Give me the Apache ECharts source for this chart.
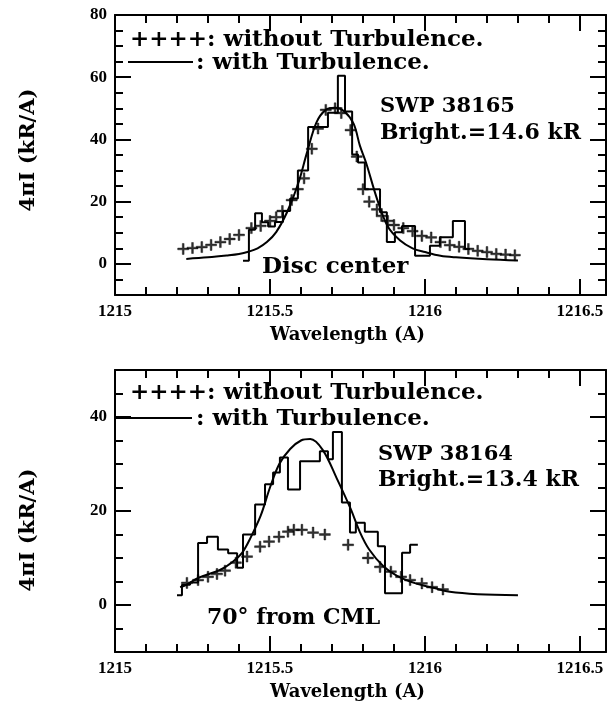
<!DOCTYPE html>
<html><head><meta charset="utf-8">
<script src="https://cdn.jsdelivr.net/npm/echarts@6/dist/echarts.min.js"></script>
<style>html,body{margin:0;padding:0;background:#fff}#c{width:607px;height:715px}</style>
</head><body><div id="c"></div>
<script>
// ---- tick values ----
const xTickLabels = [1215, 1215.5, 1216, 1216.5];
const xMinorTicks = [1215.1, 1215.2, 1215.3, 1215.4, 1215.6, 1215.7, 1215.8, 1215.9, 1216.1, 1216.2, 1216.3, 1216.4];
const topYTicks = [0, 20, 40, 60, 80];
const topYMinor = [-5, 5, 10, 15, 25, 30, 35, 45, 50, 55, 65, 70, 75];
const botYTicks = [0, 20, 40];
const botYMinor = [-5, 5, 10, 15, 25, 30, 35, 45];

// ---- top panel (SWP 38165, disc center) ----
const topCurveX = [1215.23, 1215.30, 1215.36, 1215.40, 1215.43, 1215.46, 1215.49, 1215.52, 1215.555, 1215.59, 1215.62, 1215.65, 1215.68, 1215.71, 1215.74, 1215.77, 1215.79, 1215.81, 1215.845, 1215.88, 1215.92, 1215.96, 1216.00, 1216.05, 1216.10, 1216.20, 1216.30];
const topCurveY = [1.6, 2.1, 2.7, 3.2, 3.9, 5.0, 7.0, 10.2, 16.6, 25.5, 36, 45.5, 49.5, 50.2, 49, 45, 38, 32.5, 21, 12, 7.5, 5, 3.8, 2.6, 2.1, 1.5, 1.1];
const topPlusX = [1215.22, 1215.25, 1215.28, 1215.31, 1215.34, 1215.37, 1215.40, 1215.44, 1215.47, 1215.50, 1215.52, 1215.54, 1215.57, 1215.59, 1215.61, 1215.635, 1215.655, 1215.68, 1215.71, 1215.73, 1215.76, 1215.78, 1215.80, 1215.82, 1215.845, 1215.86, 1215.88, 1215.90, 1215.93, 1215.96, 1215.99, 1216.02, 1216.05, 1216.08, 1216.11, 1216.14, 1216.17, 1216.20, 1216.23, 1216.26, 1216.29];
const topPlusY = [4.8, 5.1, 5.4, 6.1, 7.0, 8.0, 9.3, 11.5, 12.2, 13.8, 15.0, 17.0, 20.5, 24, 27.5, 37, 43.5, 49.5, 50, 48.5, 43, 34.5, 24, 20, 17.5, 15.4, 13.8, 12.5, 11.5, 10.5, 9.0, 8.5, 7.0, 6.0, 5.5, 4.8, 4.2, 3.8, 3.2, 3.0, 2.8];
const topHistEdges = [1215.413, 1215.432, 1215.452, 1215.474, 1215.494, 1215.516, 1215.542, 1215.565, 1215.590, 1215.623, 1215.687, 1215.719, 1215.742, 1215.765, 1215.784, 1215.806, 1215.855, 1215.877, 1215.903, 1215.926, 1215.968, 1216.016, 1216.048, 1216.090, 1216.129, 1216.145];
const topHistValues = [1.0, 11.0, 16.3, 13.4, 12.0, 13.5, 17.0, 21.0, 30.0, 44.0, 48.6, 60.5, 49.0, 35.2, 32.6, 24.0, 16.6, 7.0, 10.2, 12.2, 2.6, 5.8, 8.6, 13.8, 4.8];

// ---- bottom panel (SWP 38164, 70 deg from CML) ----
const botCurveX = [1215.21, 1215.23, 1215.27, 1215.34, 1215.38, 1215.41, 1215.435, 1215.47, 1215.50, 1215.53, 1215.565, 1215.60, 1215.63, 1215.67, 1215.715, 1215.76, 1215.79, 1215.82, 1215.865, 1215.91, 1215.97, 1216.03, 1216.08, 1216.17, 1216.30];
const botCurveY = [3.8, 4.3, 5.8, 7.5, 9.2, 11.1, 14.0, 19.0, 25.0, 30.0, 33.2, 35.0, 35.3, 33.0, 27.0, 20.5, 15.5, 11.8, 8.3, 6.2, 4.6, 3.6, 2.8, 2.3, 2.1];
const botPlusX = [1215.232, 1215.268, 1215.30, 1215.329, 1215.355, 1215.39, 1215.426, 1215.468, 1215.497, 1215.529, 1215.558, 1215.577, 1215.603, 1215.639, 1215.677, 1215.752, 1215.816, 1215.855, 1215.89, 1215.923, 1215.952, 1215.99, 1216.023, 1216.058];
const botPlusY = [4.7, 5.3, 6.0, 6.6, 7.3, 9.0, 10.3, 12.4, 13.5, 14.5, 15.6, 16.0, 16.0, 15.4, 15.0, 12.8, 10.0, 8.1, 7.1, 6.0, 5.3, 4.6, 3.8, 3.3];
const botHistEdges = [1215.200, 1215.216, 1215.242, 1215.268, 1215.297, 1215.332, 1215.365, 1215.394, 1215.413, 1215.452, 1215.484, 1215.510, 1215.532, 1215.558, 1215.597, 1215.661, 1215.687, 1215.703, 1215.732, 1215.758, 1215.777, 1215.806, 1215.848, 1215.871, 1215.926, 1215.952, 1215.977];
const botHistValues = [2.1, 4.3, 4.8, 13.2, 14.5, 11.8, 11.0, 7.9, 15.0, 21.4, 25.7, 28.2, 31.4, 24.6, 30.6, 32.7, 31.0, 36.8, 21.8, 15.4, 17.5, 15.6, 12.5, 2.5, 11.1, 12.8];

// ---- build helpers ----
const zip = (xs, ys) => xs.map((x, i) => [x, ys[i]]);
const hist = (edges, vals) => vals.map((v, i) => [edges[i], v]).concat([[edges[edges.length - 1], vals[vals.length - 1]]]);

const SERIF = '"DejaVu Serif", serif';
const TICKFONT = { fontFamily: '"Liberation Serif", serif', fontWeight: 'bold', fontSize: 17, color: '#000' };
const XMIN = 1215, XMAX = 1216.584;
const LS = { color: '#000', width: 2 };

function xAxes(g) {
  const base = { gridIndex: g, type: 'value', min: XMIN, max: XMAX, splitLine: { show: false } };
  return [
    Object.assign({}, base, {
      position: 'bottom',
      axisLine: { show: true, onZero: false, lineStyle: LS },
      axisTick: { show: true, inside: true, length: 16, customValues: xTickLabels, lineStyle: LS },
      axisLabel: Object.assign({ show: true, margin: 8, customValues: xTickLabels, formatter: v => String(v) }, TICKFONT),
      name: 'Wavelength (A)', nameLocation: 'middle', nameGap: 31,
      nameTextStyle: { fontFamily: SERIF, fontWeight: 'bold', fontSize: 18, color: '#000', padding: [0, 26, 0, 0] }
    }),
    Object.assign({}, base, {
      position: 'bottom',
      axisLine: { show: false, onZero: false },
      axisTick: { show: true, inside: true, length: 8, customValues: xMinorTicks, lineStyle: LS },
      axisLabel: { show: false }
    }),
    Object.assign({}, base, {
      position: 'top',
      axisLine: { show: true, onZero: false, lineStyle: LS },
      axisTick: { show: true, inside: true, length: 16, customValues: xTickLabels, lineStyle: LS },
      axisLabel: { show: false }
    }),
    Object.assign({}, base, {
      position: 'top',
      axisLine: { show: false, onZero: false },
      axisTick: { show: true, inside: true, length: 8, customValues: xMinorTicks, lineStyle: LS },
      axisLabel: { show: false }
    })
  ];
}
function yAxes(g, min, max, majors, minors, namePad) {
  const base = { gridIndex: g, type: 'value', min: min, max: max, splitLine: { show: false } };
  return [
    Object.assign({}, base, {
      position: 'left',
      axisLine: { show: true, onZero: false, lineStyle: LS },
      axisTick: { show: true, inside: true, length: 16, customValues: majors, lineStyle: LS },
      axisLabel: Object.assign({ show: true, margin: 8, customValues: majors }, TICKFONT),
      name: '4\u03c0I (kR/A)', nameLocation: 'middle', nameGap: 76,
      nameTextStyle: { fontFamily: SERIF, fontWeight: 'bold', fontSize: 21, color: '#000', padding: namePad }
    }),
    Object.assign({}, base, {
      position: 'left',
      axisLine: { show: false, onZero: false },
      axisTick: { show: true, inside: true, length: 8, customValues: minors, lineStyle: LS },
      axisLabel: { show: false }
    }),
    Object.assign({}, base, {
      position: 'right',
      axisLine: { show: true, onZero: false, lineStyle: LS },
      axisTick: { show: true, inside: true, length: 16, customValues: majors, lineStyle: LS },
      axisLabel: { show: false }
    }),
    Object.assign({}, base, {
      position: 'right',
      axisLine: { show: false, onZero: false },
      axisTick: { show: true, inside: true, length: 8, customValues: minors, lineStyle: LS },
      axisLabel: { show: false }
    })
  ];
}

const PLUS = 'path://M-1,-0.16 L-0.16,-0.16 L-0.16,-1 L0.16,-1 L0.16,-0.16 L1,-0.16 L1,0.16 L0.16,0.16 L0.16,1 L-0.16,1 L-0.16,0.16 L-1,0.16 Z';

function panelSeries(xi, yi, curve, plus, histo) {
  return [
    { type: 'line', name: 'with Turbulence', xAxisIndex: xi, yAxisIndex: yi, data: curve, smooth: 0.35,
      showSymbol: false, lineStyle: { color: '#000', width: 2 }, z: 3, silent: true },
    { type: 'line', name: 'observed', xAxisIndex: xi, yAxisIndex: yi, data: histo, step: 'end',
      showSymbol: false, lineStyle: { color: '#000', width: 2 }, z: 2, silent: true },
    { type: 'scatter', name: 'without Turbulence', xAxisIndex: xi, yAxisIndex: yi, data: plus,
      symbol: PLUS, symbolSize: 11, itemStyle: { color: '#000', borderColor: '#000', borderWidth: 0.5 }, z: 4, silent: true }
  ];
}

function txt(x, y, s, size, bold) {
  return { type: 'text', x: x, y: y, style: { text: s, fill: '#000', fontFamily: SERIF,
    fontSize: size, fontWeight: bold ? 'bold' : 'normal', verticalAlign: 'middle', align: 'left' } };
}
function seg(x1, y1, x2) {
  return { type: 'line', shape: { x1: x1, y1: y1, x2: x2, y2: y1 }, style: { stroke: '#000', lineWidth: 2 } };
}

const chart = echarts.init(document.getElementById('c'), null, { renderer: 'canvas' });
chart.setOption({
  backgroundColor: '#fff',
  animation: false,
  grid: [
    { left: 115, top: 15, width: 491, height: 280, containLabel: false },
    { left: 115, top: 370, width: 491, height: 282, containLabel: false }
  ],
  xAxis: xAxes(0).concat(xAxes(1)),
  yAxis: yAxes(0, -10, 80, topYTicks, topYMinor, [0, 0, 0, 10]).concat(yAxes(1, -10, 50, botYTicks, botYMinor, [0, 38, 0, 0])),
  series: panelSeries(0, 0, zip(topCurveX, topCurveY), zip(topPlusX, topPlusY), hist(topHistEdges, topHistValues))
    .concat(panelSeries(4, 4, zip(botCurveX, botCurveY), zip(botPlusX, botPlusY), hist(botHistEdges, botHistValues))),
  graphic: [
    txt(130, 40, '++++: without Turbulence.', 23, true),
    seg(128, 62, 193),
    txt(196, 63, ': with Turbulence.', 23, true),
    txt(380, 107, 'SWP 38165', 21, true),
    txt(380, 133, 'Bright.=14.6 kR', 22, true),
    txt(262, 267, 'Disc center', 23, true),
    txt(130, 393, '++++: without Turbulence.', 23, true),
    seg(115, 418, 192),
    txt(196, 419, ': with Turbulence.', 23, true),
    txt(378, 455, 'SWP 38164', 21, true),
    txt(378, 480, 'Bright.=13.4 kR', 22, true),
    txt(207, 618, '70\u00b0 from CML', 22, true)
  ]
});
</script>
</body></html>
